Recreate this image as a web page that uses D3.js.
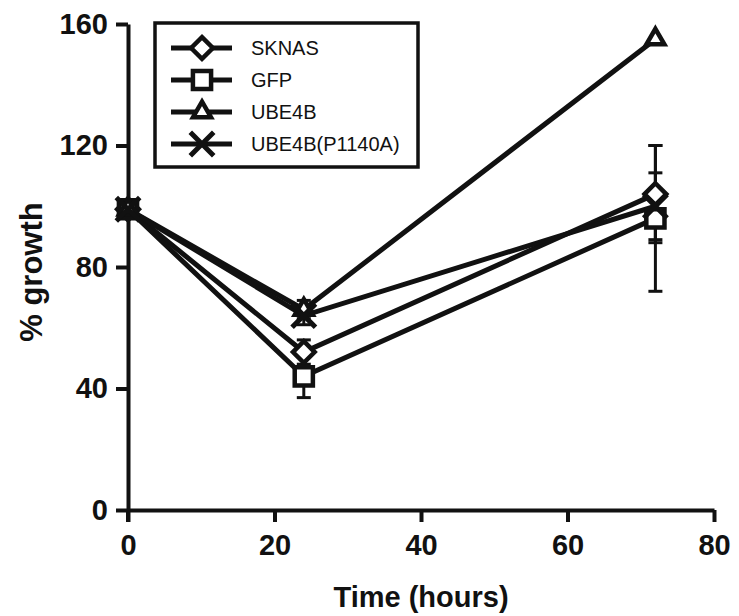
<!DOCTYPE html>
<html>
<head>
<meta charset="utf-8">
<script src="https://cdn.jsdelivr.net/npm/d3@7"></script>
<style>
  body { margin: 0; background: #fff; }
  svg { font-family: "Liberation Sans", Arial, Helvetica, sans-serif; }
</style>
</head>
<body>
<div class="chart"></div>
<script>
// data
const hours = [0, 24, 72]
const seriesNames = ["SKNAS", "GFP", "UBE4B", "UBE4B(P1140A)"]
const sknas = [99, 52, 104]
const sknasErr = [0, 4, 16]
const gfp = [99, 44, 96]
const gfpErr = [0, 7, 24]
const ube4b = [99, 66, 155]
const ube4bErr = [0, 3, 0]
const p1140a = [99, 64, 100]
const p1140aErr = [0, 3, 11]
const xTicks = [0, 20, 40, 60, 80]
const yTicks = [0, 40, 80, 120, 160]

const width = 739
const height = 616
const margin = { top: 24, bottom: 106, left: 128, right: 25 }

const svg = d3.select(".chart")
    .append("svg")
    .attr("width", width)
    .attr("height", height)

const x = d3.scaleLinear()
    .domain([0, 80])
    .range([margin.left, 714])

const y = d3.scaleLinear()
    .domain([0, 160])
    .range([510, margin.top])

// axes
const xAxis = svg.append("g")
    .attr("transform", `translate(0,${y(0)})`)
    .call(d3.axisBottom(x).tickValues(xTicks).tickSize(12).tickPadding(12).tickSizeOuter(0))
xAxis.select(".domain").attr("stroke", "#111").attr("stroke-width", 4)
xAxis.selectAll(".tick line").attr("stroke", "#111").attr("stroke-width", 4)
xAxis.selectAll(".tick text")
    .attr("fill", "#111")
    .style("font-size", "29px")
    .style("font-weight", "bold")

const yAxis = svg.append("g")
    .attr("transform", `translate(${x(0)},0)`)
    .call(d3.axisLeft(y).tickValues(yTicks).tickSize(12).tickPadding(8).tickSizeOuter(0))
yAxis.select(".domain").attr("stroke", "#111").attr("stroke-width", 4)
yAxis.selectAll(".tick line").attr("stroke", "#111").attr("stroke-width", 4)
yAxis.selectAll(".tick text")
    .attr("fill", "#111")
    .style("font-size", "29px")
    .style("font-weight", "bold")

// y axis runs a bit below the x axis (the "0" tick of x)
svg.append("line")
    .attr("x1", x(0)).attr("x2", x(0))
    .attr("y1", y(0)).attr("y2", y(0) + 12)
    .attr("stroke", "#111").attr("stroke-width", 4)

svg.append("text")
    .attr("x", (x(0) + x(80)) / 2)
    .attr("y", 607)
    .attr("text-anchor", "middle")
    .attr("fill", "#111")
    .style("font-size", "29px")
    .style("font-weight", "bold")
    .text("Time (hours)")

svg.append("text")
    .attr("transform", `translate(42,${(y(0) + y(160)) / 2 + 5}) rotate(-90)`)
    .attr("text-anchor", "middle")
    .attr("fill", "#111")
    .style("font-size", "31px")
    .style("font-weight", "bold")
    .text("% growth")

// series
const shapes = {
    "SKNAS": d3.symbolDiamond2,
    "GFP": d3.symbolSquare2,
    "UBE4B": d3.symbolTriangle2,
    "UBE4B(P1140A)": d3.symbolTimes
}
const sizes = { "SKNAS": 300, "GFP": 420, "UBE4B": 230, "UBE4B(P1140A)": 360 }

const series = [
    { name: "SKNAS", values: sknas, err: sknasErr },
    { name: "GFP", values: gfp, err: gfpErr },
    { name: "UBE4B", values: ube4b, err: ube4bErr },
    { name: "UBE4B(P1140A)", values: p1140a, err: p1140aErr }
]

const line = d3.line()
    .x(d => x(d[0]))
    .y(d => y(d[1]))

series.forEach(s => {
    const pts = hours.map((h, i) => [h, s.values[i], s.err[i]])

    // error bars
    pts.filter(p => p[2] > 0).forEach(p => {
        const g = svg.append("g").attr("stroke", "#111").attr("stroke-width", 3)
        g.append("line")
            .attr("x1", x(p[0])).attr("x2", x(p[0]))
            .attr("y1", y(p[1] - p[2])).attr("y2", y(p[1] + p[2]))
        g.selectAll(".cap")
            .data([p[1] - p[2], p[1] + p[2]])
            .enter()
            .append("line")
            .attr("x1", x(p[0]) - 7).attr("x2", x(p[0]) + 7)
            .attr("y1", d => y(d)).attr("y2", d => y(d))
    })

    svg.append("path")
        .datum(pts)
        .attr("d", line)
        .attr("fill", "none")
        .attr("stroke", "#111")
        .attr("stroke-width", 5)
})

series.forEach(s => {
    const pts = hours.map((h, i) => [h, s.values[i]])
    svg.selectAll(null)
        .data(pts)
        .enter()
        .append("path")
        .attr("transform", d => `translate(${x(d[0])},${y(d[1])})`)
        .attr("d", d3.symbol().type(shapes[s.name]).size(sizes[s.name]))
        .attr("fill", s.name === "UBE4B(P1140A)" ? "none" : "#fff")
        .attr("stroke", "#111")
        .attr("stroke-width", s.name === "UBE4B(P1140A)" ? 5 : 4.5)
})

// legend
const legend = svg.append("g")
legend.append("rect")
    .attr("x", 155).attr("y", 23)
    .attr("width", 263).attr("height", 144)
    .attr("fill", "#fff")
    .attr("stroke", "#111")
    .attr("stroke-width", 3.5)

seriesNames.forEach((name, i) => {
    const cy = 48 + i * 32
    legend.append("line")
        .attr("x1", 171).attr("x2", 232)
        .attr("y1", cy).attr("y2", cy)
        .attr("stroke", "#111").attr("stroke-width", 5)
    legend.append("path")
        .attr("transform", `translate(202,${cy})`)
        .attr("d", d3.symbol().type(shapes[name]).size(sizes[name]))
        .attr("fill", name === "UBE4B(P1140A)" ? "none" : "#fff")
        .attr("stroke", "#111")
        .attr("stroke-width", name === "UBE4B(P1140A)" ? 5 : 4.5)
    legend.append("text")
        .attr("x", 251).attr("y", cy + 7)
        .attr("fill", "#111")
        .style("font-size", "20px")
        .text(name)
})
</script>
</body>
</html>
